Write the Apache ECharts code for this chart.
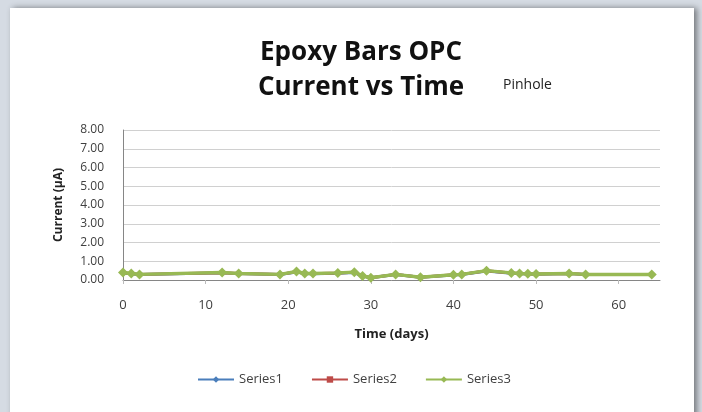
<!DOCTYPE html>
<html>
<head>
<meta charset="utf-8">
<script src="https://cdn.jsdelivr.net/npm/echarts@6/dist/echarts.min.js"></script>
<style>
html,body{margin:0;padding:0;background:#d5dbe3;}
#c{width:702px;height:412px;}
</style>
</head>
<body>
<div id="c"></div>
<script>
const days = [0, 1, 2, 12, 14, 19, 21, 22, 23, 26, 28, 29, 30, 33, 36, 40, 41, 44, 47, 48, 49, 50, 54, 56, 64];
const series1 = [0.38, 0.33, 0.29, 0.38, 0.34, 0.29, 0.43, 0.34, 0.33, 0.36, 0.40, 0.21, 0.12, 0.29, 0.15, 0.27, 0.29, 0.48, 0.36, 0.34, 0.32, 0.31, 0.34, 0.29, 0.29];
const series2 = [0.39, 0.34, 0.30, 0.39, 0.35, 0.30, 0.44, 0.35, 0.34, 0.37, 0.41, 0.22, 0.12, 0.30, 0.15, 0.28, 0.30, 0.49, 0.37, 0.35, 0.33, 0.32, 0.35, 0.30, 0.30];
const series3 = [0.40, 0.35, 0.30, 0.40, 0.35, 0.30, 0.45, 0.35, 0.35, 0.38, 0.42, 0.22, 0.12, 0.30, 0.15, 0.28, 0.30, 0.50, 0.38, 0.35, 0.33, 0.32, 0.35, 0.30, 0.30];
const seriesNames = ['Series1', 'Series2', 'Series3'];
const titleLines = ['Epoxy Bars OPC', 'Current vs Time'];
const subtitle = 'Pinhole';
const xName = 'Time (days)';
const yName = 'Current (\u03bcA)';

const pair = (v) => days.map((d, i) => [d, v[i]]);
const chart = echarts.init(document.getElementById('c'), null, {renderer: 'canvas'});
const font = 'Open Sans';
chart.setOption({
  backgroundColor: 'transparent',
  animation: false,
  graphic: [
    {type: 'rect', shape: {x: 10, y: 8, width: 684, height: 420},
     style: {fill: '#ffffff', shadowColor: 'rgba(0,0,0,0.45)', shadowBlur: 6, shadowOffsetX: 3, shadowOffsetY: 0}, z: -10}
  ],
  title: [
    {text: titleLines.join('\n'), left: 356, top: 30, textAlign: 'center',
     textStyle: {fontFamily: font, fontWeight: 'bold', fontSize: 26, lineHeight: 35, color: '#111'}},
    {text: subtitle, left: 498, top: 73,
     textStyle: {fontFamily: font, fontWeight: 'normal', fontSize: 14, color: '#222'}}
  ],
  legend: {
    data: seriesNames, bottom: 21, left: 192, itemWidth: 36, itemHeight: 8, itemGap: 28,
    textStyle: {fontFamily: font, fontSize: 13, color: '#404040'}
  },
  grid: {left: 123, right: 42, top: 130, bottom: 132},
  xAxis: {
    type: 'value', min: 0, max: 65, interval: 10,
    name: xName, nameLocation: 'middle', nameGap: 48,
    nameTextStyle: {fontFamily: font, fontWeight: 'bold', fontSize: 13, color: '#222'},
    axisLine: {show: true, onZero: false, lineStyle: {color: '#868686'}},
    axisTick: {show: true, length: 4, lineStyle: {color: '#bbbbbb'}},
    splitLine: {show: false},
    axisLabel: {fontFamily: font, fontSize: 13, color: '#404040', margin: 19, showMaxLabel: false}
  },
  yAxis: {
    type: 'value', min: 0, max: 8, interval: 1,
    name: yName, nameLocation: 'middle', nameGap: 58, nameRotate: 90,
    nameTextStyle: {fontFamily: font, fontWeight: 'bold', fontSize: 12, color: '#222'},
    axisLine: {show: true, lineStyle: {color: '#868686'}},
    axisTick: {show: false},
    splitLine: {show: true, lineStyle: {color: '#d0d0d0'}},
    axisLabel: {fontFamily: font, fontSize: 12, color: '#404040', margin: 19, formatter: (v) => v.toFixed(2)}
  },
  series: [
    {name: seriesNames[0], type: 'line', data: pair(series1), symbol: 'diamond', symbolSize: 6,
     itemStyle: {color: '#4a7ebb'}, lineStyle: {width: 3, color: '#4a7ebb'}},
    {name: seriesNames[1], type: 'line', data: pair(series2), symbol: 'rect', symbolSize: 3,
     itemStyle: {color: '#be4b48'}, lineStyle: {width: 3, color: '#be4b48'}},
    {name: seriesNames[2], type: 'line', data: pair(series3), symbol: 'diamond', symbolSize: 10,
     itemStyle: {color: '#98b954'}, lineStyle: {width: 3.5, color: '#98b954'}}
  ]
});
</script>
</body>
</html>
